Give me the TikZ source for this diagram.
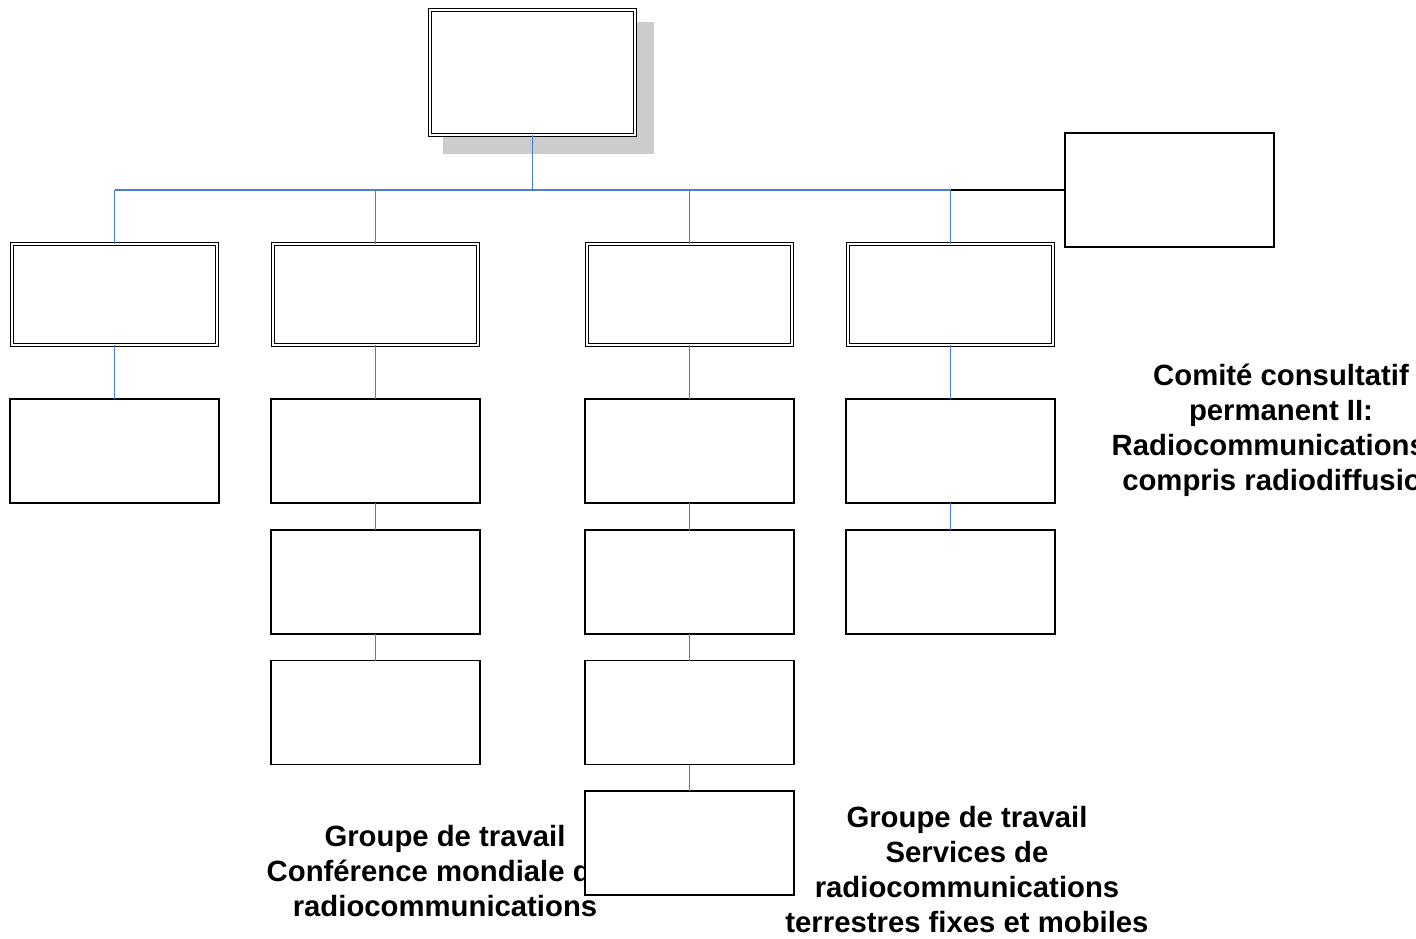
\documentclass[tikz,border=0pt]{standalone}
\usepackage{fontspec}
\setmainfont{Liberation Sans}
\begin{document}
\begin{tikzpicture}[x=1pt,y=-1pt,
  dbox/.style={draw=black, double, double distance=2.2pt, line width=0.9pt, fill=white, inner sep=0pt, outer sep=0pt, minimum width=205pt, minimum height=101pt},
  sbox/.style={draw=black, line width=1.2pt, fill=white, inner sep=0pt, outer sep=0pt, minimum width=209pt, minimum height=104pt},
  link/.style={draw={rgb,255:red,74;green,127;blue,212}, line width=1.3pt},
  blink/.style={draw=black, line width=1.2pt},
  lbl/.style={align=center, font=\fontsize{29.3}{35}\selectfont\bfseries, inner sep=0pt}]
\useasboundingbox (0,0) rectangle (1416,938);
% texts (drawn first, boxes may cover them)
\node[lbl] (t1) at (1281,430) {Comité consultatif\\permanent II:\\Radiocommunications y\\compris radiodiffusion};
\node[lbl] (t2) at (445,871.5) {Groupe de travail\\Conférence mondiale des\\radiocommunications};
\node[lbl] (t3) at (967,870) {Groupe de travail\\Services de\\radiocommunications\\terrestres fixes et mobiles};
% top
\node[fill=black!20, inner sep=0pt, minimum width=211pt, minimum height=132pt] (shadow) at (548.5,88) {};
\node[dbox, minimum height=125pt] (top) at (532.5,72.5) {};
\node[sbox, minimum height=114pt] (right) at (1169.5,190) {};
% row 2
\node[dbox] (a1) at (114.5,294.5) {};
\node[dbox] (b1) at (375.5,294.5) {};
\node[dbox] (c1) at (689.5,294.5) {};
\node[dbox] (d1) at (950.5,294.5) {};
% lower rows
\node[sbox] (a2) at (114.5,451) {};
\node[sbox] (b2) at (375.5,451) {};
\node[sbox] (b3) at (375.5,582) {};
\node[sbox] (b4) at (375.5,712.5) {};
\node[sbox] (c2) at (689.5,451) {};
\node[sbox] (c3) at (689.5,582) {};
\node[sbox] (c4) at (689.5,712.5) {};
\node[sbox] (c5) at (689.5,843) {};
\node[sbox] (d2) at (950.5,451) {};
\node[sbox] (d3) at (950.5,582) {};
% connectors
\coordinate (busL) at (114.5,190);
\coordinate (busR) at (950.5,190);
\draw[link] (busL) -- (busR);
\draw[link] (top.south) -- (top.south |- busL);
\draw[link] (a1.north) -- (a1.north |- busL);
\draw[link] (b1.north) -- (b1.north |- busL);
\draw[link] (c1.north) -- (c1.north |- busL);
\draw[link] (d1.north) -- (d1.north |- busL);
\draw[blink] (busR) -- (right.west);
\draw[link] (a1.south) -- (a2.north);
\draw[link] (b1.south) -- (b2.north);
\draw[link] (b2.south) -- (b3.north);
\draw[link] (b3.south) -- (b4.north);
\draw[link] (c1.south) -- (c2.north);
\draw[link] (c2.south) -- (c3.north);
\draw[link] (c3.south) -- (c4.north);
\draw[link] (c4.south) -- (c5.north);
\draw[link] (d1.south) -- (d2.north);
\draw[link] (d2.south) -- (d3.north);
\end{tikzpicture}
\end{document}
